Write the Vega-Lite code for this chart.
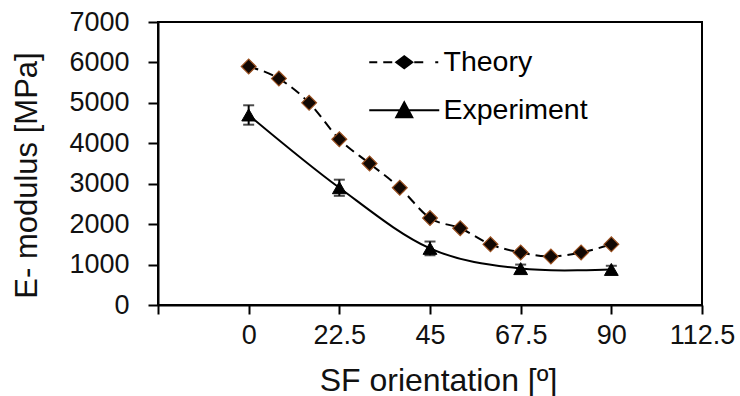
{
  "$schema": "https://vega.github.io/schema/vega-lite/v6.json",
  "width": 544,
  "height": 283,
  "autosize": "none",
  "padding": {"left": 158, "top": 22, "right": 38, "bottom": 91},
  "background": "white",
  "config": {
    "font": "Liberation Sans",
    "view": {"stroke": "black", "strokeWidth": 2},
    "axis": {
      "grid": false,
      "domainColor": "black",
      "domainWidth": 2,
      "tickColor": "black",
      "tickWidth": 2,
      "labelFont": "Liberation Sans",
      "labelColor": "#111",
      "titleColor": "#111",
      "titleFont": "Liberation Sans",
      "titleFontWeight": "normal"
    }
  },
  "datasets": {
    "theory": [
      {"series": "Theory", "angle": 0, "E": 5900},
      {"series": "Theory", "angle": 7.5, "E": 5600},
      {"series": "Theory", "angle": 15, "E": 5000},
      {"series": "Theory", "angle": 22.5, "E": 4100},
      {"series": "Theory", "angle": 30, "E": 3500},
      {"series": "Theory", "angle": 37.5, "E": 2900},
      {"series": "Theory", "angle": 45, "E": 2150},
      {"series": "Theory", "angle": 52.5, "E": 1900},
      {"series": "Theory", "angle": 60, "E": 1500},
      {"series": "Theory", "angle": 67.5, "E": 1300},
      {"series": "Theory", "angle": 75, "E": 1200},
      {"series": "Theory", "angle": 82.5, "E": 1300},
      {"series": "Theory", "angle": 90, "E": 1500}
    ],
    "experiment": [
      {"series": "Experiment", "angle": 0, "E": 4700, "lo": 4460, "hi": 4940},
      {"series": "Experiment", "angle": 22.5, "E": 2900, "lo": 2700, "hi": 3100},
      {"series": "Experiment", "angle": 45, "E": 1400, "lo": 1230, "hi": 1570},
      {"series": "Experiment", "angle": 67.5, "E": 900, "lo": 800, "hi": 1000},
      {"series": "Experiment", "angle": 90, "E": 880, "lo": 790, "hi": 970}
    ]
  },
  "encoding": {
    "x": {
      "field": "angle",
      "type": "quantitative",
      "scale": {"domain": [-22.5, 112.5], "nice": false, "zero": false},
      "axis": {
        "values": [-22.5, 0, 22.5, 45, 67.5, 90, 112.5],
        "labelExpr": "datum.value < 0 ? '' : '' + datum.value",
        "tickSize": 9,
        "labelFontSize": 27,
        "labelPadding": 8,
        "labelFlush": false,
        "labelOverlap": false,
        "title": "SF orientation [º]",
        "titleFontSize": 32,
        "titleX": 280,
        "titleY": 85,
        "titleBaseline": "alphabetic",
        "titleAlign": "center"
      }
    },
    "y": {
      "field": "E",
      "type": "quantitative",
      "scale": {"domain": [0, 7000], "nice": false},
      "axis": {
        "values": [0, 1000, 2000, 3000, 4000, 5000, 6000, 7000],
        "format": "d",
        "tickSize": 10,
        "labelFontSize": 27,
        "labelPadding": 19,
        "labelFlush": false,
        "labelOverlap": false,
        "title": "E- modulus [MPa]",
        "titleFontSize": 31,
        "titleX": -131,
        "titleY": 153,
        "titleBaseline": "middle",
        "titleAlign": "center"
      }
    }
  },
  "layer": [
    {
      "data": {"name": "theory"},
      "mark": {"type": "line", "interpolate": "monotone", "color": "black", "strokeWidth": 2, "strokeDash": [10, 6]},
      "encoding": {}
    },
    {
      "data": {"name": "experiment"},
      "mark": {"type": "line", "interpolate": "cardinal", "color": "black", "strokeWidth": 2},
      "encoding": {}
    },
    {
      "data": {"name": "experiment"},
      "mark": {"type": "rule", "color": "black", "strokeWidth": 2},
      "encoding": {
        "y": {"field": "lo", "type": "quantitative"},
        "y2": {"field": "hi"}
      }
    },
    {
      "data": {"name": "experiment"},
      "mark": {"type": "tick", "orient": "horizontal", "color": "black", "size": 11, "thickness": 2},
      "encoding": {"y": {"field": "lo", "type": "quantitative"}}
    },
    {
      "data": {"name": "experiment"},
      "mark": {"type": "tick", "orient": "horizontal", "color": "black", "size": 11, "thickness": 2},
      "encoding": {"y": {"field": "hi", "type": "quantitative"}}
    },
    {
      "data": {"name": "theory"},
      "mark": {"type": "point", "shape": "diamond", "filled": true, "fill": "#120803", "stroke": "#9a5020", "strokeWidth": 1.2, "size": 220, "opacity": 1}
    },
    {
      "data": {"name": "experiment"},
      "mark": {"type": "point", "shape": "triangle-up", "filled": true, "fill": "black", "stroke": "black", "strokeWidth": 1, "size": 190, "opacity": 1}
    },
    {
      "data": {"name": "theory"},
      "mark": {"type": "point", "filled": true, "fill": "black", "stroke": "black", "strokeWidth": 2, "size": 1, "opacity": 0},
      "encoding": {
        "shape": {
          "field": "series",
          "type": "nominal",
          "scale": {
            "domain": ["Theory", "Experiment"],
            "range": [
              "M-3.5,0H-2.7M-2.1,0H-1.2M-0.8,0L0,-0.6L0.8,0L0,0.6ZM1.0,0H1.9M3.1,0H3.4",
              "M-3.5,0H3.5M-0.8,0.7L0,-0.8L0.8,0.7Z"
            ]
          },
          "legend": {
            "orient": "none",
            "legendX": 232,
            "legendY": 26,
            "title": null,
            "padding": 0,
            "symbolSize": 400,
            "symbolOpacity": 1,
            "symbolStrokeWidth": 2,
            "labelFontSize": 28.5,
            "labelFont": "Liberation Sans",
            "labelColor": "black",
            "labelOffset": 25,
            "rowPadding": 19
          }
        }
      }
    }
  ]
}
